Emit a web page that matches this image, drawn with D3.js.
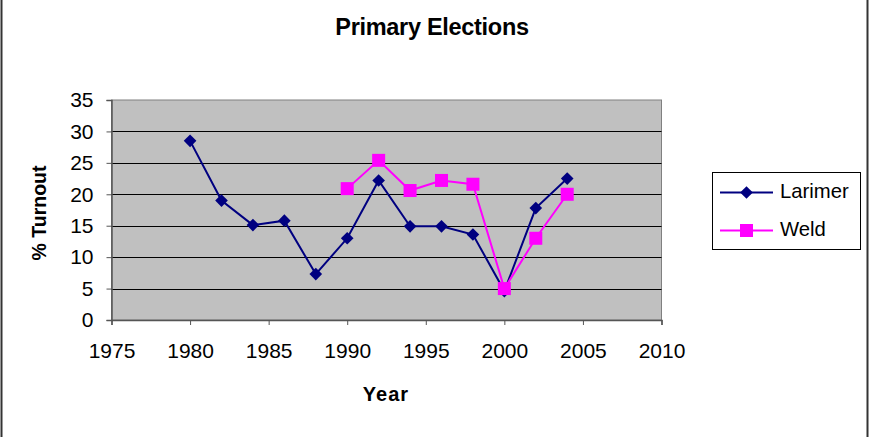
<!DOCTYPE html>
<html><head><meta charset="utf-8">
<script src="https://cdn.jsdelivr.net/npm/d3@7"></script>
<style>body{margin:0;background:#fff}svg{display:block}</style>
</head><body>
<svg id="c" width="869" height="437"></svg>
<script>
const years = [1980,1982,1984,1986,1988,1990,1992,1994,1996,1998,2000,2002,2004];
const larimer = [28.5,19.0,15.1,15.8,7.3,13.0,22.2,14.9,14.9,13.6,4.6,17.8,22.5];
const weldYears = [1990,1992,1994,1996,1998,2000,2002,2004];
const weld = [20.9,25.4,20.6,22.2,21.6,5.0,13.0,20.0];
const xTicks = [1975,1980,1985,1990,1995,2000,2005,2010];
const yTicks = [0,5,10,15,20,25,30,35];

const svg = d3.select("#c");
const font = "'Liberation Sans', Arial, sans-serif";
const L=111.5, R=661.5, T=100, B=320;
const x = d3.scaleLinear().domain([1975,2010]).range([L,R]);
const y = d3.scaleLinear().domain([0,35]).range([B,T]);

// outer border (left/right)
svg.append("line").attr("x1",1.5).attr("x2",1.5).attr("y1",0).attr("y2",437).attr("stroke","#333").attr("stroke-width",2);
svg.append("line").attr("x1",867.5).attr("x2",867.5).attr("y1",0).attr("y2",437).attr("stroke","#333").attr("stroke-width",2);

// plot area
svg.append("rect").attr("x",L).attr("y",T).attr("width",R-L).attr("height",B-T).attr("fill","#c0c0c0").attr("stroke","#808080").attr("stroke-width",1);
// gridlines
svg.append("g").selectAll("line").data(yTicks.filter(d=>d>0&&d<35)).join("line")
  .attr("x1",L).attr("x2",R).attr("y1",d=>Math.round(y(d))+0.5).attr("y2",d=>Math.round(y(d))+0.5)
  .attr("stroke","#000").attr("stroke-width",1);

// axes
const yAxis = d3.axisLeft(y).tickValues(yTicks).tickSize(5).tickPadding(13).tickFormat(d3.format("d"));
const gy = svg.append("g").attr("transform",`translate(${L},0)`).call(yAxis);
const xAxis = d3.axisBottom(x).tickValues(xTicks).tickSize(5).tickPadding(18).tickFormat(d3.format("d"));
const gx = svg.append("g").attr("transform",`translate(0,${B})`).call(xAxis);
[gx,gy].forEach(g=>{
  g.select(".domain").attr("stroke","#555").attr("stroke-width",1.5);
  g.selectAll(".tick line").attr("stroke","#555");
  g.selectAll("text").attr("font-family",font).attr("font-size",21).attr("fill","#000");
});

// lines
const line = d3.line().x(d=>x(d[0])).y(d=>y(d[1]));
const lData = years.map((d,i)=>[d,larimer[i]]);
const wData = weldYears.map((d,i)=>[d,weld[i]]);
svg.append("path").datum(lData).attr("d",line).attr("fill","none").attr("stroke","#000080").attr("stroke-width",2);
svg.append("path").datum(wData).attr("d",line).attr("fill","none").attr("stroke","#ff00ff").attr("stroke-width",2);
svg.append("g").selectAll("path").data(lData).join("path")
  .attr("d",d3.symbol().type(d3.symbolSquare).size(80))
  .attr("transform",d=>`translate(${x(d[0])},${y(d[1])}) rotate(45)`).attr("fill","#000080");
svg.append("g").selectAll("rect").data(wData).join("rect")
  .attr("x",d=>x(d[0])-6.5).attr("y",d=>y(d[1])-6.5).attr("width",13).attr("height",13).attr("fill","#ff00ff");

// title & axis titles
svg.append("text").attr("x",432).attr("y",35).attr("text-anchor","middle").attr("font-family",font)
  .attr("font-weight","bold").attr("font-size",23.5).attr("letter-spacing",-0.3).text("Primary Elections");
svg.append("text").attr("transform","translate(46,213) rotate(-90)").attr("text-anchor","middle").attr("font-family",font)
  .attr("font-weight","bold").attr("font-size",19.5).text("% Turnout");
svg.append("text").attr("x",386).attr("y",401).attr("text-anchor","middle").attr("font-family",font)
  .attr("font-weight","bold").attr("font-size",20).attr("letter-spacing",1).text("Year");

// legend
const lg = svg.append("g");
lg.append("rect").attr("x",712.5).attr("y",172.5).attr("width",148).attr("height",77).attr("fill","#fff").attr("stroke","#000");
const items = [{name:"Larimer",color:"#000080",type:"d"},{name:"Weld",color:"#ff00ff",type:"s"}];
items.forEach((it,i)=>{
  const cy = 192.5 + i*38;
  lg.append("line").attr("x1",720).attr("x2",773).attr("y1",cy).attr("y2",cy).attr("stroke",it.color).attr("stroke-width",2);
  if(it.type==="d") lg.append("path").attr("d",d3.symbol().type(d3.symbolSquare).size(80)).attr("transform",`translate(746.5,${cy}) rotate(45)`).attr("fill",it.color);
  else lg.append("rect").attr("x",740).attr("y",cy-6.5).attr("width",13).attr("height",13).attr("fill",it.color);
  lg.append("text").attr("x",780).attr("y",cy+5.5).attr("font-family",font).attr("font-size",20.3).text(it.name);
});
</script>
</body></html>
